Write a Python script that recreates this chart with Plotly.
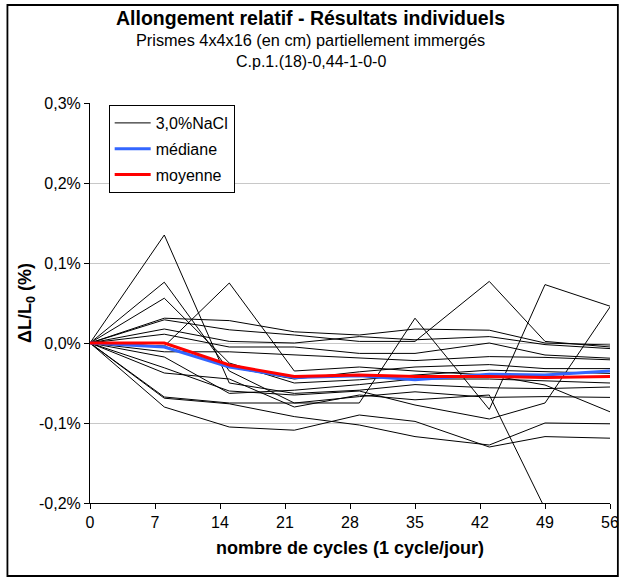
import plotly.graph_objects as go

# Measurement days (cycles)
days = [0, 8, 15, 22, 29, 35, 43, 49, 56]

# Individual relative elongation of each prism, in %
specimens = [
    [0, 0.031, 0.028, 0.014, 0.010, 0.0175, 0.016, 0.000, -0.0025],
    [0, 0.029, 0.0165, 0.010, 0.002, 0.002, 0.077, 0.002, -0.005],
    [0, 0.0175, 0.002, 0.000, 0.008, 0.004, 0.008, -0.002, -0.007],
    [0, 0.011, -0.005, -0.005, -0.013, -0.013, 0.000, -0.015, -0.019],
    [0, -0.011, -0.011, -0.015, -0.019, -0.022, -0.017, -0.018, -0.021],
    [0, -0.004, -0.030, -0.045, -0.036, -0.030, -0.027, -0.032, -0.032],
    [0, 0.056, -0.025, -0.050, -0.046, -0.040, -0.034, -0.036, -0.038],
    [0, -0.0175, -0.063, -0.059, -0.052, -0.045, -0.045, -0.047, -0.050],
    [0, 0.135, -0.050, -0.063, -0.059, -0.052, -0.056, -0.057, -0.055],
    [0, -0.0675, -0.075, -0.075, -0.067, -0.061, -0.068, -0.067, -0.068],
    [0, -0.004, 0.075, -0.035, -0.030, -0.035, -0.040, -0.0525, -0.086],
    [0, -0.069, -0.076, -0.092, -0.1025, -0.117, -0.1275, -0.100, -0.101],
    [0, -0.080, -0.105, -0.109, -0.090, -0.098, -0.130, -0.117, -0.119],
    [0, 0.076, -0.035, -0.075, -0.075, 0.031, -0.083, 0.073, 0.046],
    [0, -0.031, -0.060, -0.065, -0.060, -0.0775, -0.095, -0.075, 0.045],
    [0, -0.0375, -0.045, -0.080, -0.065, -0.071, -0.065, -0.207, -0.230],
]

median = [0, -0.005, -0.030, -0.043, -0.041, -0.046, -0.039, -0.040, -0.035]
mean = [0, 0.000, -0.0275, -0.042, -0.040, -0.042, -0.042, -0.043, -0.042]

y_ticks = [-0.2, -0.1, 0.0, 0.1, 0.2, 0.3]
y_tick_text = ["-0,2%", "-0,1%", "0,0%", "0,1%", "0,2%", "0,3%"]
x_ticks = [0, 7, 14, 21, 28, 35, 42, 49, 56]

FONT = "Arial, 'Liberation Sans', sans-serif"

fig = go.Figure()

for i, values in enumerate(specimens):
    fig.add_trace(go.Scatter(
        x=days, y=values, mode="lines",
        line=dict(color="black", width=1),
        name="3,0%NaCl", legendgroup="nacl",
        showlegend=(i == 0), hoverinfo="skip",
    ))

fig.add_trace(go.Scatter(
    x=days, y=median, mode="lines",
    line=dict(color="#3366ff", width=3),
    name="médiane", legendgroup="med",
))
fig.add_trace(go.Scatter(
    x=days, y=mean, mode="lines",
    line=dict(color="#ff0000", width=3),
    name="moyenne", legendgroup="moy",
))

# Chart titles
titles = [
    ("<b>Allongement relatif - Résultats individuels</b>", 18, 19.5),
    ("Prismes 4x4x16 (en cm) partiellement immergés", 40, 16.3),
    ("C.p.1.(18)-0,44-1-0-0", 62, 16),
]
plot_left, plot_right, plot_top, plot_bottom = 90, 619, 103, 503
pw = plot_right - plot_left
ph = plot_bottom - plot_top
for text, ypix, size in titles:
    fig.add_annotation(
        text=text, xref="paper", yref="paper",
        x=(314.5 - plot_left) / pw, y=(plot_bottom - ypix) / ph,
        xanchor="center", yanchor="middle", showarrow=False,
        font=dict(family=FONT, size=size, color="black"),
    )

# Outer frame of the chart
fig.add_shape(
    type="rect", xref="paper", yref="paper",
    x0=(6 - plot_left) / pw, x1=(627 - plot_left) / pw,
    y0=(plot_bottom - 576) / ph, y1=(plot_bottom - 5) / ph,
    line=dict(color="black", width=1.8), layer="below",
)

fig.update_layout(
    width=629, height=577,
    margin=dict(l=plot_left, r=629 - plot_right, t=plot_top, b=577 - plot_bottom),
    paper_bgcolor="white", plot_bgcolor="white",
    font=dict(family=FONT, size=16, color="black"),
    showlegend=True,
    legend=dict(
        x=(109 - plot_left) / pw, y=(plot_bottom - 105) / ph,
        xanchor="left", yanchor="top",
        bgcolor="white", bordercolor="black", borderwidth=1,
        font=dict(family=FONT, size=16, color="black"),
        tracegroupgap=2, itemwidth=36,
    ),
    xaxis=dict(
        range=[0, 56], tickvals=x_ticks, ticktext=[str(v) for v in x_ticks],
        showgrid=False, zeroline=False,
        showline=True, linecolor="black", linewidth=1,
        ticks="outside", ticklen=5, tickcolor="black",
        tickfont=dict(family=FONT, size=16),
        title=dict(text="<b>nombre de cycles (1 cycle/jour)</b>",
                   font=dict(family=FONT, size=18), standoff=11),
    ),
    yaxis=dict(
        range=[-0.2, 0.3], tickvals=y_ticks, ticktext=y_tick_text,
        showgrid=True, gridcolor="#c8c8c8", gridwidth=1,
        zeroline=False,
        showline=True, linecolor="black", linewidth=1,
        ticks="outside", ticklen=5, tickcolor="black",
        tickfont=dict(family=FONT, size=16),
        title=dict(text="<b>ΔL/L<sub>0</sub> (%)</b>",
                   font=dict(family=FONT, size=18), standoff=2),
    ),
)

fig.write_html("out.html")
